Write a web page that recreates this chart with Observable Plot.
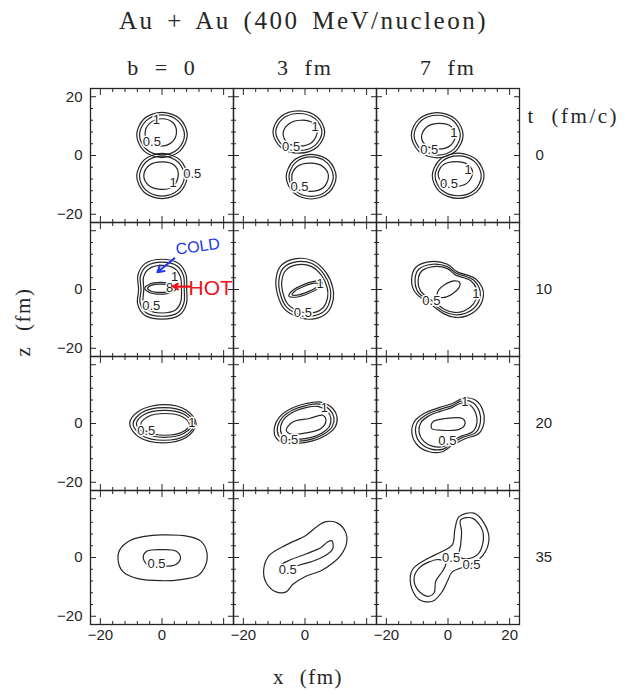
<!DOCTYPE html>
<html>
<head>
<meta charset="utf-8">
<script src="https://cdn.jsdelivr.net/npm/d3@7"></script>
<script src="https://cdn.jsdelivr.net/npm/@observablehq/plot@0.6"></script>
<style>
  html, body { margin: 0; padding: 0; background: #fff; }
  body { width: 627px; }
  #title { height: 45px; line-height: 42px; text-align: center; padding-right: 20px;
           font-family: 'Liberation Serif', 'Times New Roman', serif; font-size: 25px;
           letter-spacing: 2.5px; word-spacing: 4px; color: #262626; }
  #chart svg { display: block; }
</style>
</head>
<body>
<div id="title">Au + Au (400 MeV/nucleon)</div>
<div id="chart"></div>
<script>
// ---------- categories and tick labels ----------
const impactParams = ["0", "3", "7"];
const headerLabels = ["b = 0", "3 fm", "7 fm"];
const times = [0, 10, 20, 35];
const xTickLabelsByColumn = [[-20, 0], [-20, 0], [-20, 0, 20]];
const zTickLabelsByRow = [[20, 0, -20], [0, -20], [0, -20], [0, -20]];
const majorTicks = [-20, 0, 20];
const minorTicks = [-16, -12, -8, -4, 4, 8, 12, 16];

// ---------- density contours, points [x, z] in fm ----------
const b0_t0 = [
  [[8.2,7],[5.8,12.5],[0,14.7],[-5.8,12.5],[-8.2,7],[-5.8,1.5],[0,-0.7],[5.8,1.5]],
  [[7.3,7],[5.2,11.8],[0,13.8],[-5.2,11.8],[-7.3,7],[-5.2,2.2],[0,0.2],[5.2,2.2]],
  [[4.7,8.2],[3.4,11.3],[-0.2,12.5],[-3.9,11.0],[-5.5,7.6],[-4.0,4.4],[-0.6,3.2],[3.2,4.5]],
  [[8.2,-7],[5.8,-1.5],[0,0.7],[-5.8,-1.5],[-8.2,-7],[-5.8,-12.5],[0,-14.7],[5.8,-12.5]],
  [[7.3,-7],[5.2,-2.2],[0,-0.2],[-5.2,-2.2],[-7.3,-7],[-5.2,-11.8],[0,-13.8],[5.2,-11.8]],
  [[5.3,-6.4],[4.0,-3.3],[0.2,-2.2],[-4.2,-3.4],[-5.9,-6.9],[-4.3,-10.2],[-0.4,-11.5],[3.6,-10.6]]
];
const b3_t0 = [
  [[6.4,8],[3.96,13.11],[-2,15.2],[-7.96,13.11],[-10.4,8],[-7.96,2.89],[-2,0.8],[3.96,2.89]],
  [[5.5,8],[3.33,12.47],[-2,14.3],[-7.33,12.47],[-9.5,8],[-7.33,3.53],[-2,1.7],[3.33,3.53]],
  [[4.0,8.3],[2.6,11.0],[-1.3,12.0],[-5.3,10.7],[-7.1,7.4],[-5.6,4.3],[-1.8,3.2],[2.4,4.6]],
  [[10.1,-7.2],[7.75,-1.8],[2,0.4],[-3.75,-1.8],[-6.1,-7.2],[-3.75,-12.6],[2,-14.8],[7.75,-12.6]],
  [[9.2,-7.2],[7.1,-2.44],[2,-0.5],[-3.1,-2.44],[-5.2,-7.2],[-3.1,-11.96],[2,-13.9],[7.1,-11.96]],
  [[7.6,-6.9],[5.9,-3.8],[1.9,-2.6],[-2.6,-3.8],[-4.3,-7.3],[-2.8,-10.9],[1.6,-12.2],[6.0,-10.9]]
];
const b7_t0 = [
  [[4.9,6.9],[2.46,12.37],[-3.5,14.6],[-9.46,12.37],[-11.9,6.9],[-9.46,1.43],[-3.5,-0.8],[2.46,1.43]],
  [[4.0,6.9],[1.83,11.73],[-3.5,13.7],[-8.83,11.73],[-11.0,6.9],[-8.83,2.07],[-3.5,0.1],[1.83,2.07]],
  [[2.5,7.2],[1.0,9.9],[-2.8,10.9],[-6.9,9.7],[-8.6,6.3],[-7.0,3.3],[-3.2,2.2],[0.9,3.5]],
  [[11.7,-6.9],[9.26,-1.43],[3.3,0.8],[-2.66,-1.43],[-5.1,-6.9],[-2.66,-12.37],[3.3,-14.6],[9.26,-12.37]],
  [[10.8,-6.9],[8.63,-2.07],[3.3,-0.1],[-2.03,-2.07],[-4.2,-6.9],[-2.03,-11.73],[3.3,-13.7],[8.63,-11.73]],
  [[8.0,-5.8],[6.3,-3.0],[2.6,-2.1],[-1.6,-3.2],[-3.2,-6.5],[-1.5,-9.5],[2.2,-10.5],[6.2,-9.4]]
];
const b0_t10 = [
  [[8.0,0.3],[7.8,5],[5.5,8.8],[0,10.3],[-5.5,8.8],[-7.8,5],[-7.6,0],[-7.9,-5],[-5.6,-8.8],[0,-10.1],[5.6,-8.8],[7.9,-5]],
  [[7.2,0.3],[7.0,4.6],[4.9,8.0],[0,9.3],[-4.9,8.0],[-7.0,4.6],[-6.8,0],[-7.1,-4.6],[-5.0,-8.0],[0,-9.1],[5.0,-8.0],[7.1,-4.6]],
  [[6.3,0.3],[6.0,4.2],[4.3,7.0],[0,8.2],[-4.3,7.0],[-6.0,4.2],[-5.9,0],[-6.1,-4.1],[-4.4,-7.0],[0,-8.0],[4.4,-7.0],[6.1,-4.1]],
  [[4.6,0.4],[3.1,1.8],[-0.5,2.4],[-4.1,1.8],[-5.6,0.4],[-4.1,-1.0],[-0.5,-1.6],[3.1,-1.0]],
  [[3.7,0.4],[2.5,1.4],[-0.5,1.8],[-3.5,1.4],[-4.7,0.4],[-3.5,-0.6],[-0.5,-1.0],[2.5,-0.6]]
];
const b3_t10 = [
  [[2.5,9.8],[6.8,5.8],[9.0,0.7],[9.2,-3.2],[7.3,-7.8],[3.0,-10.0],[-1.8,-9.5],[-6.7,-6.6],[-8.8,-2.1],[-9.4,3.6],[-7.8,8.1],[-2.9,10.5]],
  [[2.25,8.84],[6.12,5.24],[8.1,0.65],[8.28,-2.86],[6.57,-7.0],[2.7,-8.98],[-1.62,-8.53],[-6.03,-5.92],[-7.92,-1.87],[-8.46,3.26],[-7.02,7.31],[-2.61,9.47]],
  [[2.0,7.88],[5.44,4.68],[7.2,0.6],[7.36,-2.52],[5.84,-6.2],[2.4,-7.96],[-1.44,-7.56],[-5.36,-5.24],[-7.04,-1.64],[-7.52,2.92],[-6.24,6.52],[-2.32,8.44]],
  [[5.63,2.40],[3.57,2.83],[-0.46,1.66],[-4.11,-0.43],[-5.23,-2.20],[-3.17,-2.63],[0.86,-1.46],[4.51,0.63]],
  [[4.62,1.97],[3.02,2.14],[-0.23,1.11],[-3.22,-0.50],[-4.22,-1.77],[-2.62,-1.94],[0.63,-0.91],[3.62,0.70]]
];
const b7_t10 = [
  [[-5.6,9.5],[-0.2,8.6],[3.0,6.0],[6.3,4.9],[9.0,3.6],[11.1,0.7],[11.5,-2.1],[10.0,-6.1],[6.3,-8.9],[2.5,-9.5],[-1.3,-8.3],[-5.0,-5.5],[-8.3,-3.2],[-11.0,-0.4],[-11.8,3.6],[-10.5,7.5]],
  [[-5.1,8.6],[-0.2,7.8],[2.7,5.5],[5.7,4.5],[8.2,3.3],[10.1,0.6],[10.5,-1.9],[9.1,-5.6],[5.7,-8.1],[2.3,-8.6],[-1.2,-7.6],[-4.6,-5.0],[-7.6,-2.9],[-10.0,-0.4],[-10.7,3.3],[-9.6,6.8]],
  [[-4.6,7.8],[-0.2,7.1],[2.5,4.9],[5.2,4.0],[7.4,3.0],[9.1,0.6],[9.4,-1.7],[8.2,-5.0],[5.2,-7.3],[2.1,-7.8],[-1.1,-6.8],[-4.1,-4.5],[-6.8,-2.6],[-9.0,-0.3],[-9.7,3.0],[-8.6,6.2]],
  [[3.81,2.42],[1.99,2.93],[-0.88,1.78],[-3.11,-0.35],[-3.41,-2.22],[-1.59,-2.73],[1.28,-1.58],[3.51,0.55]]
];
const b0_t20 = [
  [[11.1,-0.1],[7.94,4.5],[0.3,6.4],[-7.6,4.2],[-10.5,-0.1],[-7.34,-4.7],[0.3,-6.6],[7.94,-4.7]],
  [[10.6,-0.15],[7.67,3.77],[0.6,5.4],[-6.47,3.77],[-9.4,-0.15],[-6.47,-4.07],[0.6,-5.7],[7.67,-4.07]],
  [[9.8,-0.1],[7.15,3.15],[0.75,4.5],[-5.65,3.15],[-8.3,-0.1],[-5.65,-3.35],[0.75,-4.7],[7.15,-3.35]],
  [[8.9,-0.3],[6.59,2.32],[1.0,3.4],[-4.59,2.32],[-6.9,-0.3],[-4.59,-2.92],[1.0,-4.0],[6.59,-2.92]]
];
const b3_t20 = [
  [[0.3,6.8],[5.2,7.3],[9.0,5.1],[10.4,2.2],[9.8,-1.2],[6.8,-4.0],[2.5,-5.9],[-2.9,-6.8],[-7.2,-6.6],[-9.6,-4.5],[-9.9,-1.2],[-8.3,2.2],[-4.5,5.1]],
  [[0.3,6.1],[4.7,6.6],[8.1,4.6],[9.4,2.0],[8.8,-1.1],[6.1,-3.6],[2.3,-5.3],[-2.6,-6.1],[-6.5,-5.9],[-8.6,-4.1],[-8.9,-1.1],[-7.4,2.0],[-4.0,4.6]],
  [[0.3,5.4],[4.2,5.8],[7.3,4.1],[8.4,1.8],[7.9,-1.0],[5.5,-3.2],[2.1,-4.7],[-2.3,-5.4],[-5.7,-5.3],[-7.6,-3.6],[-7.9,-1.0],[-6.6,1.8],[-3.5,4.1]],
  [[-6.1,-2.3],[-4.0,0.5],[1.4,1.7],[5.7,2.8],[6.8,1.1],[5.2,-1.7],[0.3,-3.2],[-4.5,-3.6]]
];
const b7_t20 = [
  [[5.2,8.7],[9.0,7.9],[11.3,4.5],[11.7,0.5],[10.0,-3.4],[5.7,-5.1],[1.4,-7.4],[-1.8,-9.6],[-6.1,-9.6],[-9.9,-7.4],[-11.7,-3.4],[-11.0,0.5],[-7.8,3.4],[-2.9,5.4],[1.4,6.8]],
  [[4.7,7.8],[8.1,7.1],[10.2,4.0],[10.5,0.4],[9.0,-3.1],[5.1,-4.6],[1.3,-6.7],[-1.6,-8.7],[-5.5,-8.7],[-8.9,-6.7],[-10.5,-3.1],[-9.9,0.4],[-7.0,3.0],[-2.6,4.8],[1.3,6.1]],
  [[4.2,6.9],[7.2,6.2],[9.0,3.5],[9.4,0.3],[8.0,-2.8],[4.6,-4.2],[1.1,-6.0],[-1.4,-7.8],[-4.9,-7.8],[-7.9,-6.0],[-9.4,-2.8],[-8.8,0.3],[-6.2,2.6],[-2.3,4.2],[1.1,5.3]],
  [[-5.0,0.5],[-0.7,1.7],[4.7,1.7],[5.5,-0.2],[3.6,-2.0],[-1.8,-2.3],[-5.3,-1.7]]
];
const b0_t35 = [
  [[-0.2,7.7],[8.4,7.2],[12.7,5.5],[14.6,1.5],[14.0,-3.0],[11.7,-6.1],[6.2,-7.5],[-0.2,-7.9],[-7.8,-7.2],[-12.6,-4.9],[-14.2,-1.3],[-13.7,2.6],[-10.5,5.7],[-5.6,7.2]],
  [[6.0,0],[4.5,2.2],[-0.2,2.7],[-4.8,2.2],[-6.1,0.2],[-4.8,-2.4],[-0.2,-3.0],[4.5,-2.4]]
];
const b3_t35 = [
  [[6.8,12.2],[10.6,11.7],[13.3,8.3],[13.5,4.9],[11.7,0.9],[9.0,-1.9],[5.2,-4.5],[0.3,-6.4],[-4.0,-9.2],[-6.1,-11.7],[-9.4,-11.7],[-12.6,-8.6],[-13.4,-4.1],[-11.6,0.7],[-6.1,4.3],[0.3,7.5],[3.8,10.5]],
  [[8.7,5.7],[9.0,3.0],[6.2,0.4],[1.9,-1.5],[-2.9,-3.0],[-6.4,-5.6],[-8.3,-5.3],[-8.3,-3.0],[-4.5,-0.7],[0.3,1.2],[5.2,3.4],[7.3,5.3]]
];
const b7_t35 = [
  [[3.6,13.9],[8.4,15.1],[11.7,11.7],[13.3,6.6],[12.2,2.1],[10.0,-0.7],[5.7,-3.0],[1.4,-4.9],[-0.2,-8.1],[-1.8,-11.5],[-5.0,-14.9],[-9.4,-14.3],[-12.1,-9.2],[-11.5,-4.1],[-7.2,-0.7],[-1.8,2.1],[1.4,4.3],[2.3,10.0]],
  [[4.1,12.8],[7.9,13.4],[11.1,9.4],[11.3,4.9],[9.5,0.9],[5.7,-0.4],[3.6,0.4],[4.1,4.3],[4.4,8.8]],
  [[-2.9,-0.7],[-0.7,-1.9],[-1.8,-4.7],[-4.0,-8.1],[-4.5,-12.0],[-6.7,-13.2],[-9.9,-10.9],[-11.0,-6.9],[-9.4,-3.6],[-6.1,-1.5]]
];

// contour level labels: [b, t, text, x, z]
const contourLabels = [
  ["0",0,"1",-1.8,12.3],["0",0,"0.5",-3.3,4.5],["0",0,"0.5",9.8,-6.2],["0",0,"1",3.6,-9.3],
  ["3",0,"1",3.3,9.6],["3",0,"0.5",-4.5,2.8],["3",0,"0.5",-1.8,-10.7],
  ["7",0,"0.5",-6.1,2.0],["7",0,"1",1.9,7.7],["7",0,"1",6.5,-4.8],["7",0,"0.5",0.3,-9.6],
  ["0",10,"1",4.1,4.4],["0",10,"0.5",-3.5,-5.7],["0",10,"8",2.5,0.7],
  ["3",10,"1",4.9,1.9],["3",10,"0.5",-0.7,-8.0],
  ["7",10,"0.5",-5.4,-3.8],["7",10,"1",9.0,-1.5],
  ["0",20,"1",9.7,0.2],["0",20,"0.5",-5.1,-2.6],
  ["3",20,"0.5",-5.1,-5.7],["3",20,"1",6.3,5.4],
  ["7",20,"1",5.5,7.3],["7",20,"0.5",-0.2,-5.9],
  ["0",35,"0.5",-1.8,-2.2],
  ["3",35,"0.5",-5.6,-4.1],
  ["7",35,"0.5",1.0,-0.2],["7",35,"0.5",7.6,-2.4]
];

// hand-written annotations in the b = 0, t = 10 panel
const noteText = ["COLD", "HOT"];
const noteColor = ["#2238e6", "#f0121c"];
const notePos = [[11.6, 14.6], [15.8, 0.5]];
const noteArrowFrom = [[4.0, 10.6], [9.0, 1.0]];
const noteArrowTo = [[-1.5, 5.9], [3.6, 1.0]];

// ---------- build tables ----------
const panels = [
  ["0",0,b0_t0],["3",0,b3_t0],["7",0,b7_t0],
  ["0",10,b0_t10],["3",10,b3_t10],["7",10,b7_t10],
  ["0",20,b0_t20],["3",20,b3_t20],["7",20,b7_t20],
  ["0",35,b0_t35],["3",35,b3_t35],["7",35,b7_t35]
];
const contourRows = panels.flatMap(([b, t, list]) =>
  list.flatMap((pts, i) => pts.map(([x, z]) => ({b, t, id: `${b}|${t}|${i}`, x, z}))));
const labelRows = contourLabels.map(([b, t, text, x, z]) => ({b, t, text, x, z}));
const xTickRows = impactParams.flatMap((b, i) => xTickLabelsByColumn[i].map(v => ({b, v})));
const zTickRows = times.flatMap((t, i) => zTickLabelsByRow[i].map(v => ({t, v})));
const fmt = v => v < 0 ? "\u2212" + Math.abs(v) : String(v);

const sans = "'Liberation Sans', Arial, Helvetica, sans-serif";
const serif = "'Liberation Serif', 'Times New Roman', serif";
const ink = "#262626";
const tickCommon = {stroke: ink, strokeWidth: 1, fill: "none", facetAnchor: null, label: null};

const chart = Plot.plot({
  width: 627, height: 653,
  marginLeft: 89, marginRight: 107, marginTop: 42, marginBottom: 73,
  style: {background: "white", color: ink, fontFamily: sans},
  x: {domain: [-23.2, 23.2], axis: null},
  y: {domain: [-22.8, 22.8], axis: null},
  fx: {domain: impactParams, padding: 0, axis: null},
  fy: {domain: times, padding: 0, axis: null},
  marks: [
    Plot.frame({stroke: ink, strokeWidth: 1.3}),
    Plot.axisX(majorTicks, {anchor: "bottom", tickSize: -6, ...tickCommon}),
    Plot.axisX(majorTicks, {anchor: "top", tickSize: -6, ...tickCommon}),
    Plot.axisX(minorTicks, {anchor: "bottom", tickSize: -3, ...tickCommon}),
    Plot.axisX(minorTicks, {anchor: "top", tickSize: -3, ...tickCommon}),
    Plot.axisY(majorTicks, {anchor: "left", tickSize: -6, ...tickCommon}),
    Plot.axisY(majorTicks, {anchor: "right", tickSize: -6, ...tickCommon}),
    Plot.axisY(minorTicks, {anchor: "left", tickSize: -3, ...tickCommon}),
    Plot.axisY(minorTicks, {anchor: "right", tickSize: -3, ...tickCommon}),
    Plot.line(contourRows, {x: "x", y: "z", z: "id", fx: "b", fy: "t",
      curve: "catmull-rom-closed", stroke: ink, strokeWidth: 1.2}),
    Plot.text(labelRows, {x: "x", y: "z", fx: "b", fy: "t", text: "text",
      fontSize: 13, fontFamily: sans, fill: ink, stroke: "white", strokeWidth: 3}),
    // tick labels
    Plot.text(xTickRows, {x: "v", fx: "b", fy: () => 35, frameAnchor: "bottom", dy: 15,
      text: d => fmt(d.v), fontSize: 15, fontFamily: sans, fill: ink}),
    Plot.text(zTickRows, {y: "v", fx: () => "0", fy: "t", frameAnchor: "left", dx: -8,
      textAnchor: "end", text: d => fmt(d.v), fontSize: 15, fontFamily: sans, fill: ink}),
    // column headers, row labels, axis titles
    Plot.text(impactParams, {fx: d => d, fy: () => 0, frameAnchor: "top", dy: -29,
      text: (d, i) => headerLabels[i], fontSize: 22, fontFamily: serif, fill: ink}),
    Plot.text(times, {fx: () => "7", fy: d => d, frameAnchor: "right", dx: 16, textAnchor: "start",
      text: d => String(d), fontSize: 15, fontFamily: sans, fill: ink}),
    Plot.text(["t (fm/c)"], {fx: () => "7", fy: () => 0, frameAnchor: "top-right", dx: 8, dy: 20,
      textAnchor: "start", text: d => d, fontSize: 21, fontFamily: serif, fill: ink}),
    Plot.text(["z (fm)"], {fx: () => "0", fy: () => 10, frameAnchor: "bottom-left", dx: -61, rotate: -90,
      text: d => d, fontSize: 21, fontFamily: serif, fill: ink}),
    Plot.text(["x (fm)"], {fx: () => "3", fy: () => 35, frameAnchor: "bottom", dx: 3, dy: 59,
      text: d => d, fontSize: 21, fontFamily: serif, fill: ink}),
    // annotations
    Plot.arrow([0], {fx: () => "0", fy: () => 10, x1: () => noteArrowFrom[0][0], y1: () => noteArrowFrom[0][1],
      x2: () => noteArrowTo[0][0], y2: () => noteArrowTo[0][1], stroke: noteColor[0], strokeWidth: 2, headLength: 7}),
    Plot.arrow([0], {fx: () => "0", fy: () => 10, x1: () => noteArrowFrom[1][0], y1: () => noteArrowFrom[1][1],
      x2: () => noteArrowTo[1][0], y2: () => noteArrowTo[1][1], stroke: noteColor[1], strokeWidth: 2.2, headLength: 7}),
    Plot.text([noteText[0]], {fx: () => "0", fy: () => 10, x: () => notePos[0][0], y: () => notePos[0][1],
      text: d => d, rotate: -8, fontSize: 16, fontFamily: sans, fill: noteColor[0]}),
    Plot.text([noteText[1]], {fx: () => "0", fy: () => 10, x: () => notePos[1][0], y: () => notePos[1][1],
      text: d => d, fontSize: 21, fontFamily: sans, fill: noteColor[1]})
  ]
});

document.getElementById("chart").append(chart);
// widen the serif labels to the spacing of the original typesetting
const spacing = {"b = 0": [2, 7], "3 fm": [2, 7], "7 fm": [2, 7], "t (fm/c)": [2.5, 8], "z (fm)": [1.5, 8], "x (fm)": [1.5, 8]};
d3.select(chart).selectAll("text").each(function () {
  const s = spacing[this.textContent];
  if (s) {
    this.setAttribute("letter-spacing", s[0]);
    this.setAttribute("word-spacing", s[1]);
    this.style.letterSpacing = s[0] + "px";
    this.style.wordSpacing = s[1] + "px";
  }
});
</script>
</body>
</html>
